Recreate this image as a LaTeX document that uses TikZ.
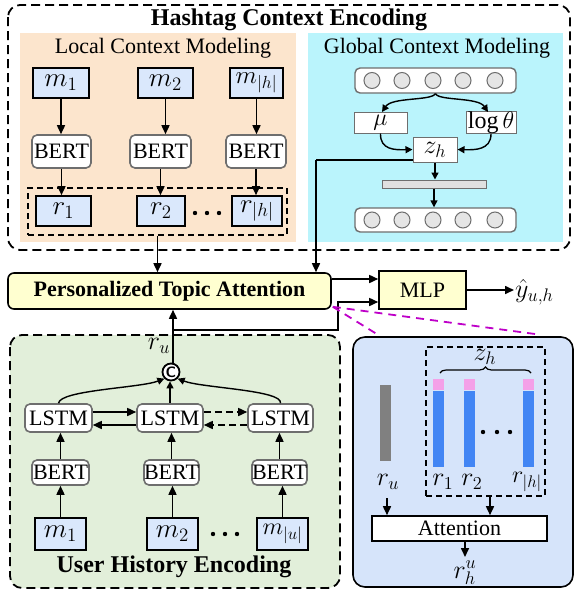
\documentclass[tikz,border=0pt]{standalone}
\usepackage{fix-cm}
\usepackage{graphicx}
\usepackage{fontspec}
\setmainfont{Liberation Serif}
\usetikzlibrary{arrows.meta,decorations.pathreplacing,calc}
\newcommand{\MZ}[2][1.35]{\scalebox{#1}{$#2$}}
\definecolor{peach}{RGB}{252,229,205}
\definecolor{cyanbg}{RGB}{186,244,252}
\definecolor{mblue}{RGB}{218,232,252}
\definecolor{greenbg}{RGB}{226,239,218}
\definecolor{ylw}{RGB}{255,255,208}
\definecolor{rbox}{RGB}{214,228,250}
\definecolor{barblue}{RGB}{66,133,244}
\definecolor{pinkc}{RGB}{244,160,232}
\definecolor{magc}{RGB}{190,0,200}
\definecolor{bordgray}{RGB}{110,110,110}
\tikzset{
  fs/.style={font=\fontsize{#1}{#1}\selectfont},
  mbox/.style={draw=black, line width=1.6pt, fill=mblue, inner sep=0pt, fs=20},
  bert/.style={draw=bordgray, line width=1.6pt, fill=white, rounded corners=5pt, inner sep=0pt, fs=22},
  gbox/.style={draw=bordgray, line width=1pt, fill=white, inner sep=0pt, fs=20},
  arr/.style={-{Triangle[length=9pt,width=8pt]}, line width=1.6pt},
  sarr/.style={-{Triangle[length=7pt,width=7pt]}, line width=1.4pt},
  dbox/.style={draw=black, line width=1.4pt, dash pattern=on 6pt off 4pt},
  circ/.style={circle, draw=bordgray, fill=black!10, line width=1pt, minimum size=16pt, inner sep=0pt},
  mlab/.style={fs=20, inner sep=1pt},
}
\begin{document}
\begin{tikzpicture}[x=1pt,y=-1pt]
\useasboundingbox (0,0) rectangle (576,592);
% ===== Hashtag Context Encoding =====
\draw[line width=1.8pt, dash pattern=on 9pt off 5pt, rounded corners=12pt, fill=white] (8,5) rectangle (570,250);
\fill[peach] (20,33) rectangle (296,242);
\fill[cyanbg] (308,33) rectangle (563,242);
\node[font=\fontsize{24}{24}\selectfont\bfseries] (hce) at (289,20) {Hashtag Context Encoding};
\node[fs=22] (lcm) at (163,48) {Local Context Modeling};
\node[fs=22] (gcm) at (437,48) {Global Context Modeling};
% local
\node[mbox, minimum width=56pt, minimum height=30pt] (m1) at (61,83) {\MZ{m_1}};
\node[mbox, minimum width=55pt, minimum height=30pt] (m2) at (165.5,83) {\MZ{m_2}};
\node[mbox, minimum width=53pt, minimum height=30pt] (mh) at (256.5,83) {\MZ[1.25]{m_{|h|}}};
\node[bert, minimum width=59pt, minimum height=33pt] (b1) at (61.5,151.5) {BERT};
\node[bert, minimum width=61pt, minimum height=33pt] (b2) at (160.5,151.5) {BERT};
\node[bert, minimum width=60pt, minimum height=33pt] (b3) at (256,151.5) {BERT};
\node[mbox, minimum width=55pt, minimum height=30pt] (r1) at (63.5,211) {\MZ{r_1}};
\node[mbox, minimum width=48pt, minimum height=30pt] (r2) at (161,211) {\MZ{r_2}};
\node[mbox, minimum width=50pt, minimum height=30pt] (rh) at (257,211) {\MZ{r_{|h|}}};
\node[dbox, minimum width=259pt, minimum height=47pt, inner sep=0pt] (rgrp) at (157.5,211.5) {};
\foreach \x in {195,207,219} \fill (\x,213) circle (2.2pt);
\draw[arr] (m1.south) -- (m1.south |- b1.north);
\draw[arr] (m2.south) -- (m2.south |- b2.north);
\draw[arr] (mh.south) -- (mh.south |- b3.north);
\draw[arr] (b1.south) -- (b1.south |- r1.north);
\draw[arr] (b2.south) -- (b2.south |- r2.north);
\draw[arr] (b3.south) -- (b3.south |- rh.north);
% global
\node[draw=bordgray, line width=1.4pt, fill=white, rounded corners=5pt, minimum width=161pt, minimum height=25pt, inner sep=0pt] (enc) at (435.5,80.5) {};
\foreach \x [count=\i] in {372,402,433,463,495} \node[circ] (ec\i) at (\x,80.5) {};
\node[gbox, minimum width=53pt, minimum height=21pt] (mu) at (380.5,122.5) {\MZ[1.2]{\mu}};
\node[gbox, minimum width=50pt, minimum height=21pt] (lt) at (491,122.5) {\MZ[1.2]{\log\theta}};
\node[gbox, minimum width=44pt, minimum height=25pt] (zh) at (435,149.5) {\MZ[1.3]{z_h}};
\node[draw=bordgray, fill=black!12, line width=1pt, minimum width=104pt, minimum height=8pt, inner sep=0pt] (bar) at (434,184) {};
\node[draw=bordgray, line width=1.4pt, fill=white, rounded corners=5pt, minimum width=161pt, minimum height=24pt, inner sep=0pt] (dec) at (435.5,220) {};
\foreach \x [count=\i] in {372,402,433,463,495} \node[circ] (dc\i) at (\x,220) {};
\draw[sarr] (enc.south) .. controls (431,101) and (392,97) .. (382,112);
\draw[sarr] (enc.south) .. controls (439,101) and (478,97) .. (488,112);
\draw[sarr] (mu.south) .. controls (380,150) and (395,150) .. (zh.west);
\draw[sarr] (lt.south) .. controls (491,150) and (475,150) .. (zh.east);
\draw[sarr] (zh.south) -- (zh.south |- bar.north);
\draw[sarr] (bar.south) -- (bar.south |- dec.north);
% ===== Personalized Topic Attention & MLP =====
\node[draw=black, line width=1.6pt, fill=ylw, rounded corners=6pt, minimum width=323pt, minimum height=36pt, inner sep=0pt, font=\fontsize{22}{22}\selectfont\bfseries] (pta) at (169.5,291) {Personalized Topic Attention};
\node[draw=black, line width=1.6pt, fill=ylw, minimum width=87pt, minimum height=38pt, inner sep=0pt, fs=22] (mlp) at (422.5,290) {MLP};
\node[anchor=west, mlab] (yhat) at (514,292) {\MZ[1.3]{\hat{y}_{u,h}}};
\coordinate (zl) at (316,160);
\draw[line width=1.6pt] (zh.west |- zl) -- (zl);
\draw[arr] (zl) -- (zl |- pta.north);
\draw[arr] (rgrp.south) -- (rgrp.south |- pta.north);
\draw[arr] (pta.east |- 0,279) -- (mlp.west |- 0,279);
\draw[arr] (mlp.east) -- (mlp.east -| yhat.west);
% ===== User History Encoding =====
\draw[line width=1.8pt, dash pattern=on 9pt off 5pt, rounded corners=12pt, fill=greenbg] (10,335) rectangle (340,588);
\node[font=\fontsize{24}{24}\selectfont\bfseries] (uhe) at (174,567) {User History Encoding};
\node[circle, draw=black, fill=white, line width=1.8pt, minimum size=17pt, inner sep=0pt, font=\fontsize{15}{15}\selectfont\sffamily\bfseries] (cc) at (171,372) {C};
\node[mlab] (rul) at (159,346) {\MZ[1.3]{r_u}};
\node[bert, minimum width=67pt, minimum height=28pt] (l1) at (58.5,418) {LSTM};
\node[bert, minimum width=66pt, minimum height=28pt] (l2) at (170,418) {LSTM};
\node[bert, minimum width=65pt, minimum height=28pt] (l3) at (280.5,418) {LSTM};
\node[bert, minimum width=57pt, minimum height=25pt] (ub1) at (60.5,472.5) {BERT};
\node[bert, minimum width=55pt, minimum height=25pt] (ub2) at (171.5,472.5) {BERT};
\node[bert, minimum width=55pt, minimum height=25pt] (ub3) at (279.5,472.5) {BERT};
\node[mbox, minimum width=51pt, minimum height=32pt] (um1) at (60.5,534) {\MZ{m_1}};
\node[mbox, minimum width=51pt, minimum height=32pt] (um2) at (172.5,534) {\MZ{m_2}};
\node[mbox, minimum width=51pt, minimum height=32pt] (umu) at (282.5,534) {\MZ[1.2]{m_{|u|}}};
\foreach \x in {213,225,237} \fill (\x,534) circle (2.2pt);
\draw[arr] (um1.north) -- (um1.north |- ub1.south);
\draw[arr] (um2.north) -- (um2.north |- ub2.south);
\draw[arr] (umu.north) -- (umu.north |- ub3.south);
\draw[arr] (ub1.north) -- (ub1.north |- l1.south);
\draw[arr] (ub2.north) -- (ub2.north |- l2.south);
\draw[arr] (ub3.north) -- (ub3.north |- l3.south);
\draw[arr] (l1.east |- 0,412) -- (l2.west |- 0,412);
\draw[arr] (l2.west |- 0,425) -- (l1.east |- 0,425);
\draw[arr, dash pattern=on 7pt off 4pt] (l2.east |- 0,412) -- (l3.west |- 0,412);
\draw[arr, dash pattern=on 7pt off 4pt] (l3.west |- 0,425) -- (l2.east |- 0,425);
\draw[sarr] (l1.north) .. controls (60,390) and (140,388) .. (cc.south west);
\draw[sarr] (l3.north) .. controls (283,390) and (202,388) .. (cc.south east);
\draw[sarr] (l2.north) -- (l2.north |- cc.south);
\coordinate (rub) at (173,330);
\draw[line width=1.6pt] (cc.north -| rub) -- (rub);
\draw[arr] (rub) -- (rub |- pta.south);
\draw[arr] (rub) -- (338,330) -- (338,302) -- (mlp.west |- 0,302);
% ===== Right detail box =====
\draw[magc, line width=1.8pt, dash pattern=on 8pt off 6pt] (pta.south east) ++(1,-3) coordinate (pc) -- (380,336);
\draw[magc, line width=1.8pt, dash pattern=on 8pt off 6pt] (pc) -- (535,334);
\draw[line width=1.6pt, rounded corners=12pt, fill=rbox] (353,337) rectangle (573,587);
\node[dbox, minimum width=119pt, minimum height=149pt, inner sep=0pt] (zgrp) at (485.5,421.5) {};
\node[mlab] (zl2) at (485,357) {\MZ[1.3]{z_h}};
\draw[line width=1.2pt, decorate, decoration={brace, amplitude=6pt}] (440,373) -- (531,373);
\fill[black!50] (380,385) rectangle (391,461);
\foreach \x in {433,464,523} {
  \fill[pinkc] (\x,379) rectangle (\x+11,390);
  \fill[barblue] (\x,391) rectangle (\x+11,467);
}
\foreach \x in {483,497,510} \fill (\x,432) circle (2.2pt);
\node[mlab] (ru2) at (388,482) {\MZ[1.3]{r_u}};
\node[mlab] (rr1) at (443,482) {\MZ[1.3]{r_1}};
\node[mlab] (rr2) at (472,482) {\MZ[1.3]{r_2}};
\node[mlab] (rrh) at (527,482) {\MZ[1.2]{r_{|h|}}};
\node[draw=black, line width=1.6pt, fill=white, minimum width=175pt, minimum height=25pt, inner sep=0pt, fs=22] (att) at (459.5,528.5) {Attention};
\node[mlab, inner sep=0pt] (rhu) at (465,573) {\MZ[1.3]{r_h^u}};
\coordinate (ruarr) at (387,498);
\draw[arr] (ruarr) -- (ruarr |- att.north);
\coordinate (zarr) at (490,496);
\draw[arr] (zarr) -- (zarr |- att.north);
\coordinate (atto) at (465,557);
\draw[arr] (att.south -| atto) -- (atto);
\end{tikzpicture}
\end{document}
